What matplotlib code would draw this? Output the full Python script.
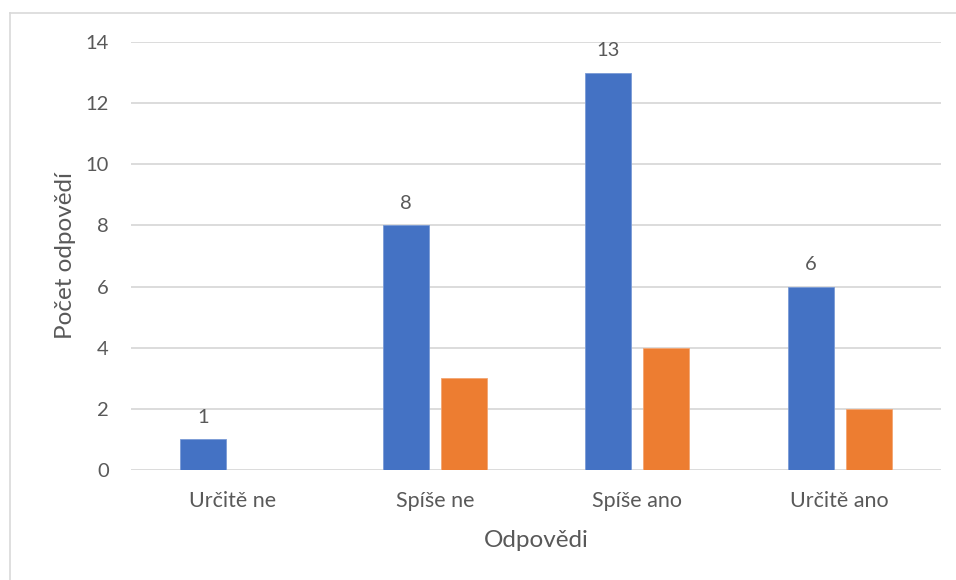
import matplotlib
matplotlib.use("Agg")
import matplotlib.pyplot as plt
from matplotlib.lines import Line2D
import numpy as np

categories = ["Určitě ne", "Spíše ne", "Spíše ano", "Určitě ano"]
series_a = [1, 8, 13, 6]
series_b = [0, 3, 4, 2]
yticks = [0, 2, 4, 6, 8, 10, 12, 14]

plt.rcParams['font.family'] = ['Lato', 'DejaVu Sans']
txt = '#595959'
grid = '#D9D9D9'

fig = plt.figure(figsize=(9.56, 5.8), dpi=100)
ax = fig.add_axes([131/956, 1-470/580, 810/956, 428/580])

x = np.arange(len(categories))
w = 0.227
off = 0.143
bars_a = ax.bar(x - off, series_a, w, color='#4472C4', edgecolor='#7A9BD6', linewidth=0.6, zorder=3)
bars_b = ax.bar(x + off, series_b, w, color='#ED7D31', edgecolor='#F3A673', linewidth=0.6, zorder=3)

for xi, v in zip(x - off, series_a):
    ax.annotate(str(v), (xi, v), xytext=(0, 10), textcoords='offset points',
                ha='center', va='bottom', fontsize=14.5, color=txt)

ax.set_xlim(-0.5, len(categories) - 0.5)
ax.set_ylim(0, 14)
ax.set_yticks(yticks)
ax.set_yticklabels([str(t) for t in yticks])
ax.set_xticks(x)
ax.set_xticklabels(categories)
ax.tick_params(axis='y', length=0, labelsize=14.5, colors=txt, pad=16)
ax.tick_params(axis='x', length=0, labelsize=15.5, colors=txt, pad=15)
ax.yaxis.grid(True, color=grid, linewidth=1.3, zorder=0)
ax.set_axisbelow(True)
for s in ax.spines.values():
    s.set_visible(False)

ax.set_xlabel("Odpovědi", fontsize=17.5, color=txt, labelpad=14)
ax.set_ylabel("Počet odpovědí", fontsize=17.5, color=txt, labelpad=7)

fig.add_artist(Line2D([10/956, 10/956], [0, 1-13/580], transform=fig.transFigure, color=grid, linewidth=1.2))
fig.add_artist(Line2D([10/956, 1], [1-13/580, 1-13/580], transform=fig.transFigure, color=grid, linewidth=1.2))

fig.savefig("out.png", dpi=100)
